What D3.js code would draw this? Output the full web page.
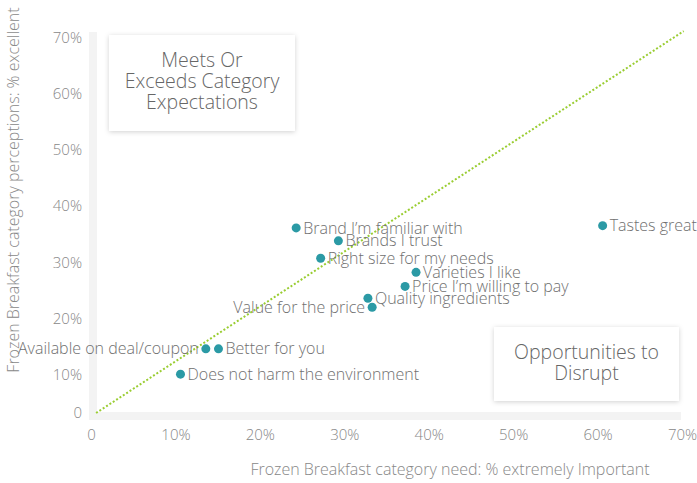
<!DOCTYPE html>
<html>
<head>
<meta charset="utf-8">
<script src="https://cdn.jsdelivr.net/npm/d3@7"></script>
<style>
  body { margin: 0; background: #fff; }
  text { font-family: "Open Sans", sans-serif; font-weight: 300; }
</style>
</head>
<body>
<div id="chart"></div>
<script>
// attributes, need (x) vs perception (y)
const labels = [
  "Brand I\u2019m familiar with", "Brands I trust", "Right size for my needs",
  "Varieties I like", "Price I\u2019m willing to pay", "Quality ingredients",
  "Value for the price", "Available on deal/coupon", "Better for you",
  "Does not harm the environment", "Tastes great"
];
const need = [0.243, 0.293, 0.272, 0.385, 0.372, 0.328, 0.333, 0.136, 0.151, 0.106, 0.606];
const perception = [0.361, 0.338, 0.307, 0.282, 0.257, 0.236, 0.220, 0.146, 0.146, 0.101, 0.365];
const labelLeft = ["Value for the price", "Available on deal/coupon"];
const xTicks = [0, 0.1, 0.2, 0.3, 0.4, 0.5, 0.6, 0.7];
const yTicks = [0, 0.1, 0.2, 0.3, 0.4, 0.5, 0.6, 0.7];

const W = 697, H = 483;
const svg = d3.select("#chart").append("svg")
  .attr("width", W).attr("height", H);

const x = d3.scaleLinear().domain([0, 0.7]).range([91, 682]);
// bottom step is shorter in the original
const y = d3.scaleLinear().domain([0, 0.1, 0.7]).range([413, 374.7, 37.3]);

const fmt = d => d === 0 ? "0" : Math.round(d * 100) + "%";

// shadow for boxes
const defs = svg.append("defs");
const f = defs.append("filter").attr("id", "shadow")
  .attr("x", "-20%").attr("y", "-20%").attr("width", "140%").attr("height", "140%");
f.append("feDropShadow").attr("dx", 0).attr("dy", 1).attr("stdDeviation", 2.5)
  .attr("flood-color", "#000").attr("flood-opacity", 0.18);

// axis bands
svg.append("rect").attr("x", 89).attr("y", 32).attr("width", 8).attr("height", 388)
  .attr("fill", "#f3f3f3");
svg.append("rect").attr("x", 89).attr("y", 412).attr("width", 592).attr("height", 8)
  .attr("fill", "#f3f3f3");

// y ticks
const yAxis = d3.axisLeft(y).tickValues(yTicks).tickFormat(fmt).tickSize(0).tickPadding(0);
const gy = svg.append("g").attr("transform", "translate(82,0)").call(yAxis);
gy.select(".domain").remove();
gy.selectAll("text").attr("fill", "#888").style("font-size", "15px");

// x ticks
const xAxis = d3.axisBottom(x).tickValues(xTicks).tickFormat(fmt).tickSize(0).tickPadding(0);
const gx = svg.append("g").attr("transform", "translate(0,429)").call(xAxis);
gx.select(".domain").remove();
gx.selectAll("text").attr("fill", "#888").style("font-size", "15px");

// axis titles
svg.append("text")
  .attr("transform", `translate(19,${190}) rotate(-90)`)
  .attr("text-anchor", "middle")
  .attr("fill", "#888").style("font-size", "16px")
  .text("Frozen Breakfast category perceptions: % excellent");
svg.append("text")
  .attr("x", 450).attr("y", 475)
  .attr("text-anchor", "middle")
  .attr("fill", "#888").style("font-size", "16px")
  .text("Frozen Breakfast category need: % extremely Important");

// quadrant boxes
const boxes = [
  { x: 109, y: 35, w: 186, h: 96, lines: ["Meets Or", "Exceeds Category", "Expectations"], ty: 67 },
  { x: 494, y: 327, w: 185, h: 74, lines: ["Opportunities to", "Disrupt"], ty: 359 }
];
boxes.forEach(b => {
  svg.append("rect").attr("x", b.x).attr("y", b.y).attr("width", b.w).attr("height", b.h)
    .attr("fill", "#fff").attr("filter", "url(#shadow)");
  const t = svg.append("text").attr("text-anchor", "middle")
    .attr("fill", "#666").style("font-size", "19.5px");
  b.lines.forEach((l, i) => {
    t.append("tspan").attr("x", b.x + b.w / 2).attr("y", b.ty + i * 21).text(l);
  });
});

// diagonal reference line
svg.append("line")
  .attr("x1", x(0.006)).attr("y1", y(0))
  .attr("x2", x(0.702)).attr("y2", y(0.711))
  .attr("stroke", "#9acd32").attr("stroke-width", 2)
  .attr("stroke-dasharray", "2,2");

// points
const data = labels.map((l, i) => ({ label: l, x: need[i], y: perception[i] }));
svg.selectAll("circle.pt").data(data).join("circle")
  .attr("class", "pt")
  .attr("cx", d => x(d.x)).attr("cy", d => y(d.y)).attr("r", 4.5)
  .attr("fill", "#2b9aa5");

svg.selectAll("text.lbl").data(data).join("text")
  .attr("class", "lbl")
  .attr("x", d => labelLeft.includes(d.label) ? x(d.x) - 7 : x(d.x) + 7)
  .attr("y", d => y(d.y))
  .attr("dy", "0.35em")
  .attr("text-anchor", d => labelLeft.includes(d.label) ? "end" : "start")
  .attr("fill", "#707070").style("font-size", "16px")
  .text(d => d.label);
</script>
</body>
</html>
